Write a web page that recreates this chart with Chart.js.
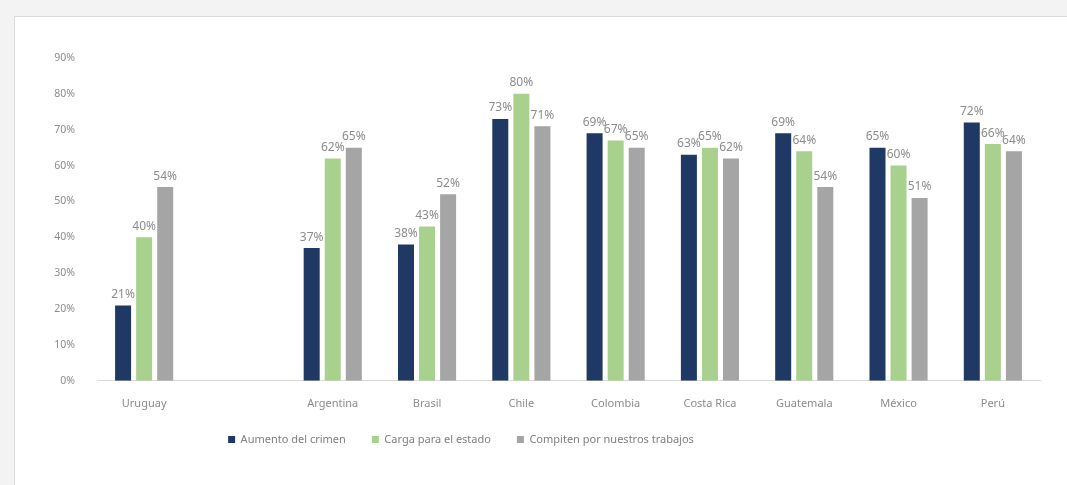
<!DOCTYPE html>
<html>
<head>
<meta charset="utf-8">
<script src="https://cdn.jsdelivr.net/npm/chart.js@4"></script>
<style>
    html, body { margin: 0; padding: 0; background: #f3f3f3; }
    .frame {
        position: absolute; left: 14px; top: 16px; width: 1100px; height: 520px;
        background: #fff; border: 1px solid #dcdcdc;
    }
    #chartWrap { position: absolute; left: 0; top: 0; width: 1067px; height: 485px; }
</style>
</head>
<body>
<div class="frame"></div>
<div id="chartWrap"><canvas id="chart"></canvas></div>
<script>
// ============= Chart data =============
const countries = ['Uruguay', '', 'Argentina', 'Brasil', 'Chile', 'Colombia', 'Costa Rica', 'Guatemala', 'México', 'Perú'];
const crimen = [21, null, 37, 38, 73, 69, 63, 69, 65, 72];
const cargaEstado = [40, null, 62, 43, 80, 67, 65, 64, 60, 66];
const compiten = [54, null, 65, 52, 71, 65, 62, 54, 51, 64];
const yTicks = [0, 10, 20, 30, 40, 50, 60, 70, 80, 90];

const FONT = '"Noto Sans", "Open Sans", sans-serif';

// Draws the % label above each bar
const valueLabels = {
    id: 'valueLabels',
    afterDatasetsDraw(chart) {
        const ctx = chart.ctx;
        ctx.save();
        ctx.font = '12px ' + FONT;
        ctx.fillStyle = '#8c8c8c';
        ctx.textAlign = 'center';
        ctx.textBaseline = 'bottom';
        chart.data.datasets.forEach((ds, i) => {
            chart.getDatasetMeta(i).data.forEach((bar, j) => {
                const v = ds.data[j];
                if (v == null) return;
                ctx.fillText(v + '%', bar.x, bar.y - 5);
            });
        });
        ctx.restore();
    }
};

// Legend in the original sits a bit left of centre and closer to the axis
const legendShift = {
    id: 'legendShift',
    afterLayout(chart) {
        const lg = chart.legend;
        lg.left -= 85;
        lg.right -= 85;
        lg.top -= 10;
        lg.bottom -= 10;
    }
};

new Chart(document.getElementById('chart'), {
    type: 'bar',
    data: {
        labels: countries,
        datasets: [
            { label: 'Aumento del crimen', data: crimen, backgroundColor: '#1f3864' },
            { label: 'Carga para el estado', data: cargaEstado, backgroundColor: '#a9d18e' },
            { label: 'Compiten por nuestros trabajos', data: compiten, backgroundColor: '#a5a5a5' }
        ]
    },
    options: {
        responsive: true,
        maintainAspectRatio: false,
        animation: false,
        datasets: { bar: { categoryPercentage: 0.67, barPercentage: 0.76 } },
        layout: { padding: { left: 52, right: 27, top: 58, bottom: 20 } },
        plugins: {
            tooltip: { enabled: false },
            legend: {
                position: 'bottom',
                labels: {
                    boxWidth: 7, boxHeight: 7, padding: 26,
                    color: '#7f7f7f', font: { family: FONT, size: 11 }
                }
            }
        },
        scales: {
            y: {
                min: 0, max: 90,
                afterFit(s) { s.width = 45; },
                afterBuildTicks(s) { s.ticks = yTicks.map(v => ({ value: v })); },
                grid: { display: false },
                border: { display: false },
                ticks: {
                    color: '#8c8c8c', padding: 14,
                    font: { family: FONT, size: 10.5 },
                    callback: v => v + '%'
                }
            },
            x: {
                grid: { display: false },
                border: { color: '#d9d9d9' },
                ticks: { color: '#8c8c8c', padding: 8, font: { family: FONT, size: 11 } }
            }
        }
    },
    plugins: [valueLabels, legendShift]
});
</script>
</body>
</html>
